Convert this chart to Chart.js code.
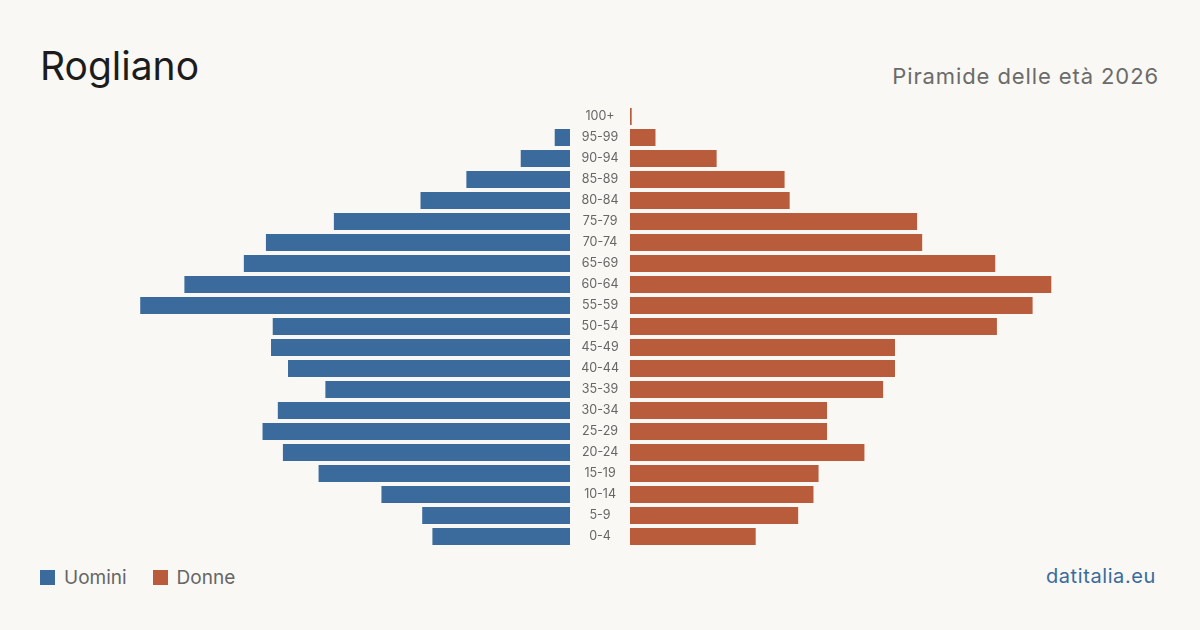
<!DOCTYPE html>
<html>
<head>
<meta charset="utf-8">
<script src="https://cdn.jsdelivr.net/npm/chart.js@4"></script>
<style>
  html,body{ margin:0; padding:0; }
  body{ width:1200px; height:630px; background:#f9f8f4; position:relative; overflow:hidden; font-family:Inter, "Noto Sans", sans-serif; }
  .title{ position:absolute; left:40px; top:46px; font-size:39px; color:#1c1c1c; line-height:1; }
  .sub{ position:absolute; right:41px; top:65px; font-size:22px; letter-spacing:0.9px; color:#6b6b6b; line-height:1; }
  .box{ position:absolute; top:106px; height:441px; }
  #boxM{ left:40px; width:530px; }
  #boxF{ left:570px; width:590px; }
  .legend{ position:absolute; left:40px; top:566px; font-size:19px; color:#666; display:flex; align-items:center; }
  .legend i{ display:inline-block; width:15px; height:15px; margin-right:9px; }
  .legend span{ margin-right:26px; }
  .src{ position:absolute; right:44px; top:564px; font-size:20px; letter-spacing:0.6px; color:#3a6b9c; line-height:1.2; }
</style>
</head>
<body>
<div class="title">Rogliano</div>
<div class="sub">Piramide delle età 2026</div>
<div class="box" id="boxM"><canvas id="men"></canvas></div>
<div class="box" id="boxF"><canvas id="women"></canvas></div>
<div class="legend"><i style="background:#3a6b9c"></i><span>Uomini</span><i style="background:#b95c3c"></i><span>Donne</span></div>
<div class="src">datitalia.eu</div>
<script>
const ageGroups = ["100+","95-99","90-94","85-89","80-84","75-79","70-74","65-69","60-64","55-59","50-54","45-49","40-44","35-39","30-34","25-29","20-24","15-19","10-14","5-9","0-4"];
const men   = [0, 9, 29, 61, 88, 139, 179, 192, 227, 253, 175, 176, 166, 144, 172, 181, 169, 148, 111, 87, 81];
const women = [1, 15, 51, 91, 94, 169, 172, 215, 248, 237, 216, 156, 156, 149, 116, 116, 138, 111, 108, 99, 74];
const xMax = 312;

const blue = "#3a6b9c", rust = "#b95c3c";

function opts(isMen){
  return {
    indexAxis: "y",
    responsive: true,
    maintainAspectRatio: false,
    animation: false,
    layout: { padding: 0 },
    plugins: { legend:{ display:false }, tooltip:{ enabled:false } },
    scales: {
      x: { display:false, min:0, max:xMax, reverse:isMen },
      y: isMen ? { display:false } : {
        position: "left",
        grid: { display:false, drawTicks:false },
        border: { display:false },
        // fixed gutter between the two halves, no extra vertical padding
        afterFit: s => { s.width = 60; s.paddingTop = 0; s.paddingBottom = 0; },
        ticks: { color:"#666", font:{ family:"Inter", size:12.5 }, crossAlign:"center", padding:11 }
      }
    }
  };
}

new Chart(document.getElementById("men"), {
  type: "bar",
  data: { labels: ageGroups, datasets: [{ data: men, backgroundColor: blue, barPercentage: 0.81, categoryPercentage: 1 }] },
  options: opts(true)
});

new Chart(document.getElementById("women"), {
  type: "bar",
  data: { labels: ageGroups, datasets: [{ data: women, backgroundColor: rust, barPercentage: 0.81, categoryPercentage: 1 }] },
  options: opts(false)
});
</script>
</body>
</html>
